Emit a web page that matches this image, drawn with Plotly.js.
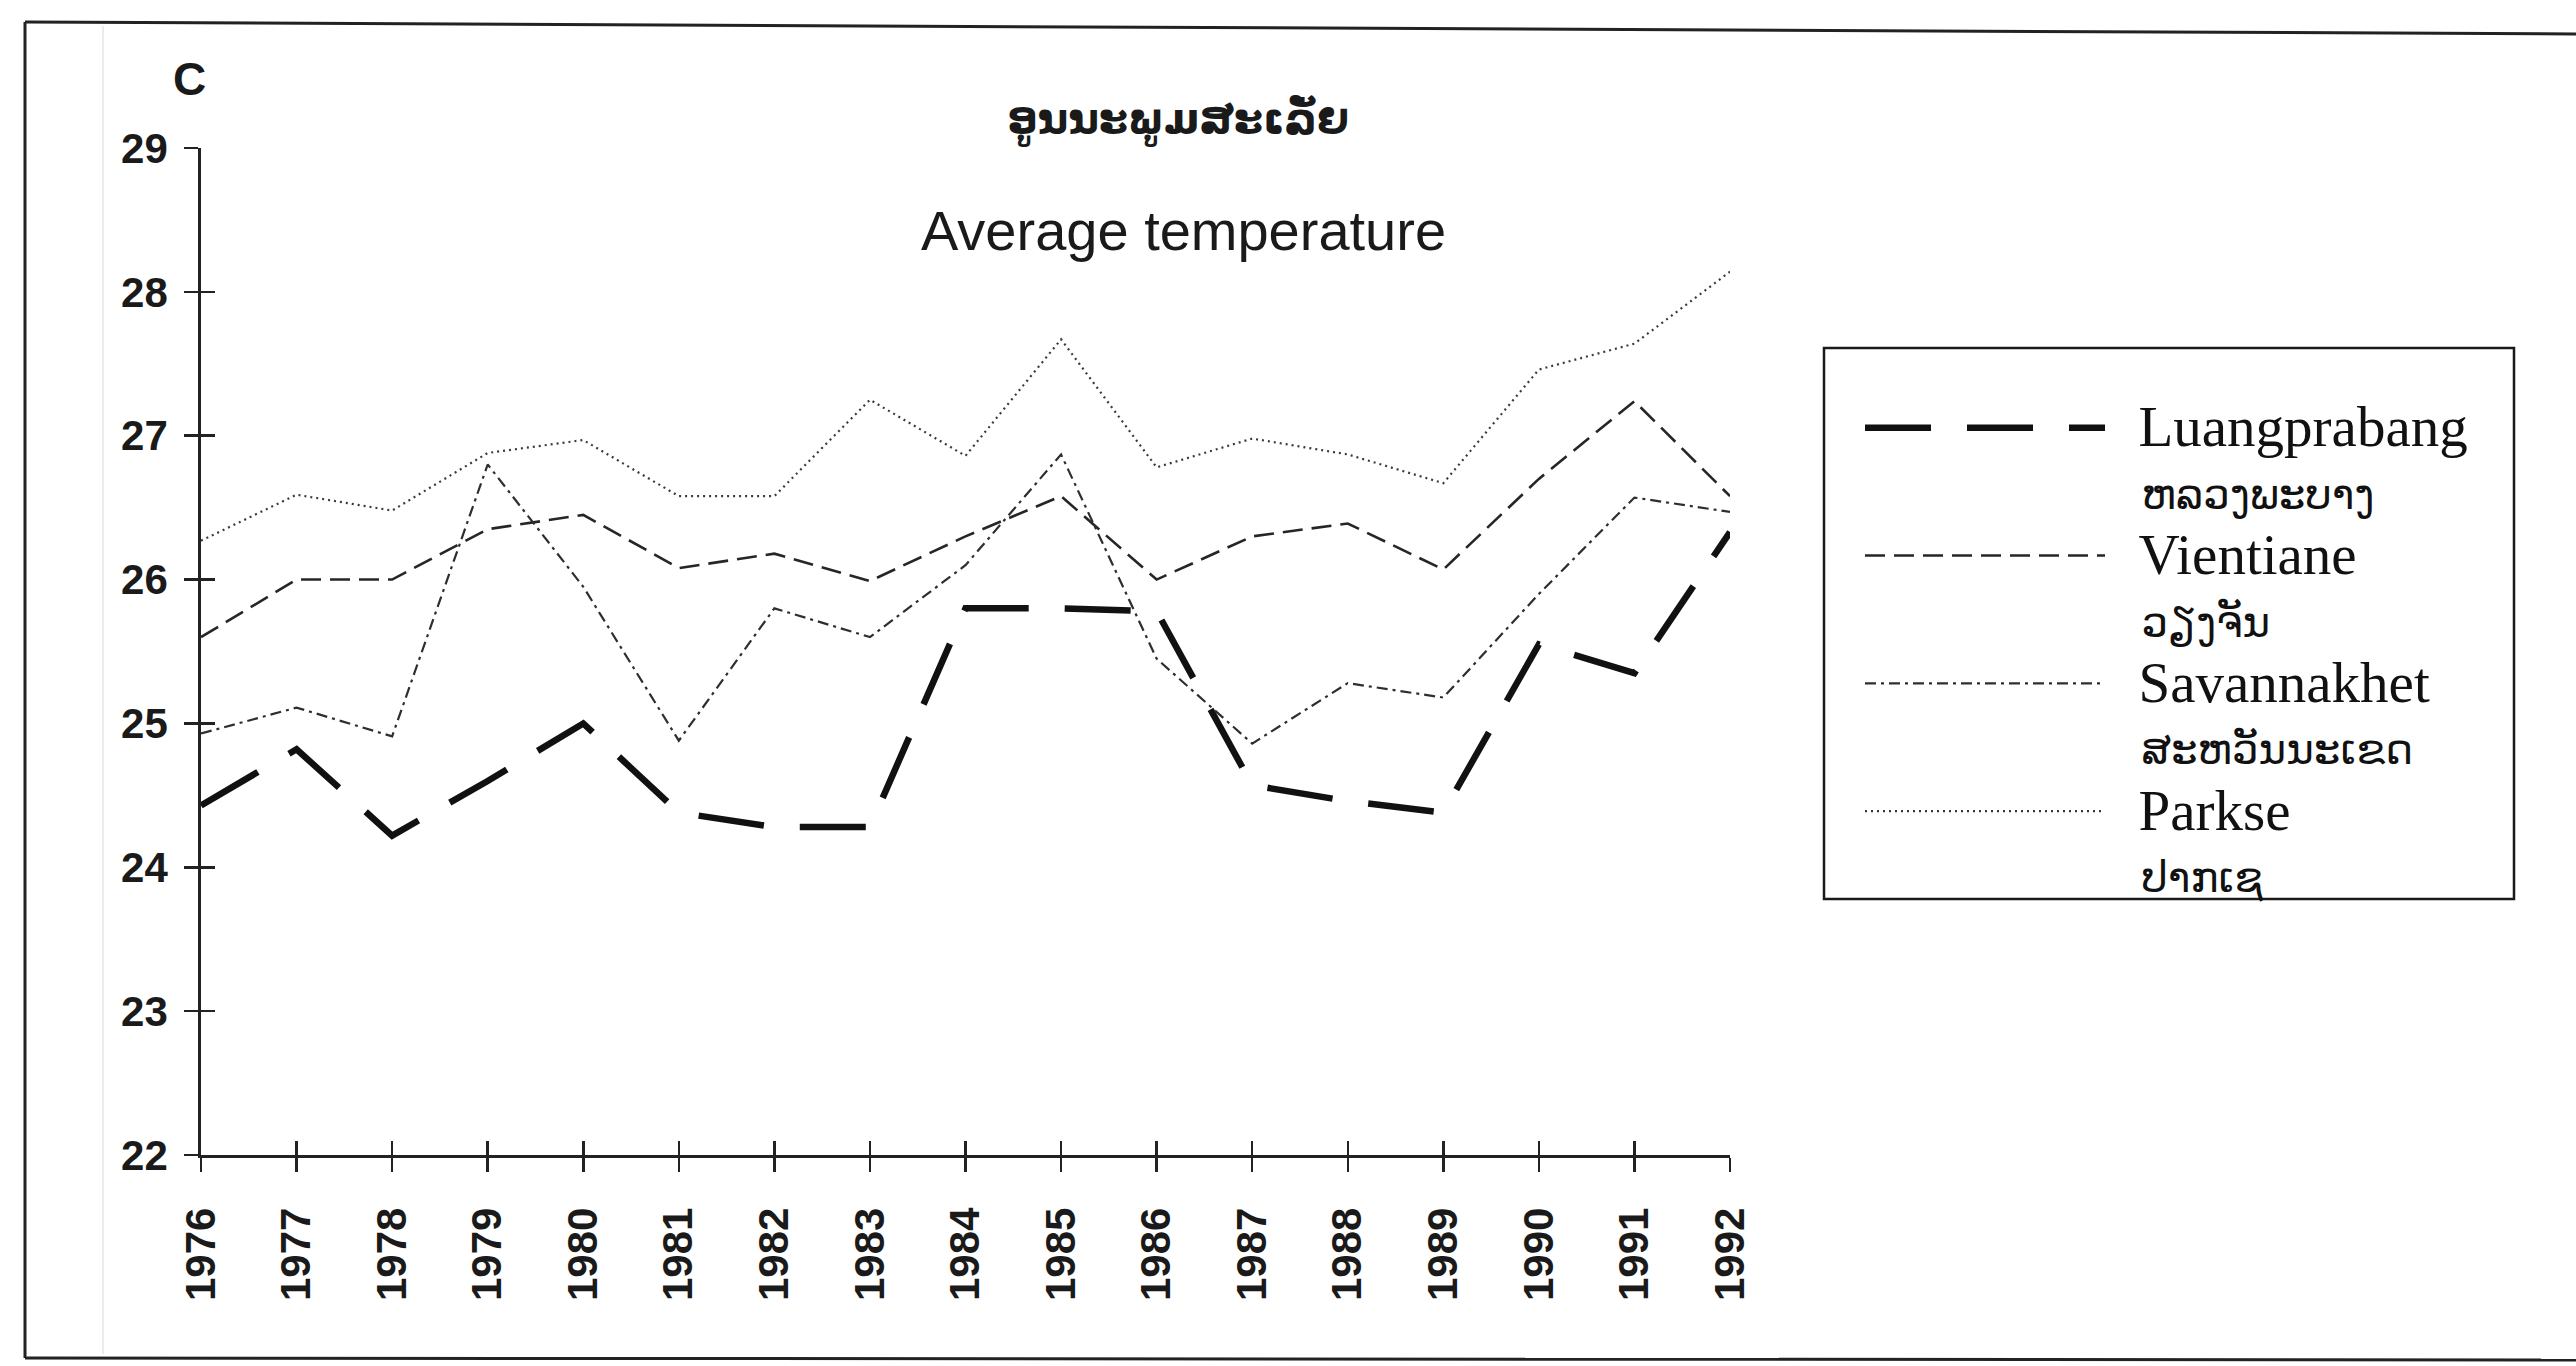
<!DOCTYPE html>
<html>
<head>
<meta charset="utf-8">
<script src="https://cdn.plot.ly/plotly-3.0.1.min.js"></script>
<style>html,body{margin:0;padding:0;background:#fff;}</style>
</head>
<body>
<div id="chart" style="width:2576px;height:1366px;"></div>
<script>
// ---- data ----
const years = [1976,1977,1978,1979,1980,1981,1982,1983,1984,1985,1986,1987,1988,1989,1990,1991,1992];
const luangprabang = [24.43,24.82,24.22,24.6,25.0,24.38,24.28,24.28,25.8,25.8,25.78,24.57,24.46,24.38,25.55,25.35,26.33];
const vientiane    = [25.6,26.0,26.0,26.35,26.45,26.08,26.18,25.99,26.3,26.58,26.0,26.3,26.39,26.07,26.7,27.24,26.58];
const savannakhet  = [24.93,25.11,24.91,26.8,25.95,24.88,25.8,25.6,26.1,26.87,25.45,24.86,25.28,25.18,25.9,26.57,26.47];
const parkse       = [26.27,26.59,26.48,26.88,26.97,26.58,26.58,27.25,26.86,27.67,26.78,26.98,26.87,26.67,27.46,27.64,28.14];
const namesEn  = ['Luangprabang','Vientiane','Savannakhet','Parkse'];
const namesLao = ['ຫລວງພະບາງ','ວຽງຈັນ','ສະຫວັນນະເຂດ','ປາກເຊ'];
const yTicks = [22,23,24,25,26,27,28,29];
const titleLao = 'ອູນນະພູມສະເລັ່ຍ';
const titleEn = 'Average temperature';
const unitLabel = 'C';

// ---- styles ----
const styles = [
  {color:'#111111', width:6.5, dash:'66px,36px'},
  {color:'#262626', width:2.6, dash:'20px,9px'},
  {color:'#2e2e2e', width:2.2, dash:'11px,5px,3px,5px'},
  {color:'#3a3a3a', width:2.2, dash:'2px,4px'}
];
const seriesData = [luangprabang, vientiane, savannakhet, parkse];
const pad = '\u00a0\u00a0';

const traces = seriesData.map((vals,i)=>({
  type:'scatter', mode:'lines', x:years, y:vals,
  name: '<span style="font-size:57px">' + pad + namesEn[i] + '</span><br>' +
        '<span style="font-size:42px">' + pad + '\u00a0' + namesLao[i] + '</span>',
  line:{color:styles[i].color, width:styles[i].width, dash:styles[i].dash},
  xaxis:'x', yaxis:'y'
}));
// helper (empty) trace for the overlay axes that give crossing tick marks
traces.push({type:'scatter', mode:'lines', x:[years[0]], y:[null], xaxis:'x2', yaxis:'y2',
  showlegend:false, hoverinfo:'skip'});

// plot area geometry (px)
const W = 2576, H = 1366;
const L = 201, R = 1730, T = 148, B = 1155;
const pw = R - L, ph = B - T;
const px = v => (v - L) / pw;     // page x -> paper
const py = v => (B - v) / ph;     // page y -> paper

const tickFont = {family:'Liberation Sans, Arial, sans-serif', size:42, color:'#1a1a1a', weight:'bold'};

const layout = {
  width:W, height:H,
  margin:{l:L, r:W-R, t:T, b:H-B, pad:0},
  paper_bgcolor:'#ffffff', plot_bgcolor:'rgba(0,0,0,0)',
  showlegend:true,
  title:{text:titleLao, x:1178/W, xanchor:'center', y:1-118/H, yanchor:'middle', yref:'container',
    font:{family:'DejaVu Sans, Noto Sans, sans-serif', size:42, color:'#1a1a1a', weight:'bold'}},
  xaxis:{range:[years[0], years[years.length-1]], tickmode:'array', tickvals:years, ticktext:years.map(String),
    tickangle:-90, ticks:'outside', ticklen:14, tickwidth:2.5, tickcolor:'#222',
    showline:true, linecolor:'#222', linewidth:2.8, showgrid:false, zeroline:false,
    tickfont:tickFont, ticklabelstandoff:19, fixedrange:true},
  yaxis:{range:[yTicks[0], yTicks[yTicks.length-1]], tickmode:'array', tickvals:yTicks, ticktext:yTicks.map(String),
    ticks:'outside', ticklen:14, tickwidth:2.5, tickcolor:'#222',
    showline:true, linecolor:'#222', linewidth:2.8, showgrid:false, zeroline:false,
    tickfont:tickFont, ticklabelstandoff:8, fixedrange:true},
  xaxis2:{overlaying:'x', anchor:'y2', range:[years[0], years[years.length-1]], tickmode:'array', tickvals:years,
    ticks:'inside', ticklen:14, tickwidth:2.5, tickcolor:'#222', showticklabels:false,
    showline:false, showgrid:false, zeroline:false, side:'bottom'},
  yaxis2:{overlaying:'y', anchor:'x2', range:[yTicks[0], yTicks[yTicks.length-1]], tickmode:'array', tickvals:yTicks,
    ticks:'inside', ticklen:14, tickwidth:2.5, tickcolor:'#222', showticklabels:false,
    showline:false, showgrid:false, zeroline:false, side:'left'},
  legend:{x:px(1860), xanchor:'left', y:py(390), yanchor:'top', valign:'top',
    bgcolor:'rgba(0,0,0,0)', borderwidth:0, itemwidth:240, tracegroupgap:0,
    font:{family:'Liberation Serif, Times New Roman, DejaVu Sans, serif', size:48, color:'#111111'}},
  annotations:[
    {text:titleEn, xref:'paper', yref:'paper', x:px(1183), y:py(230), xanchor:'center', yanchor:'middle',
     showarrow:false, font:{family:'Liberation Sans, Arial, sans-serif', size:56, color:'#1a1a1a'}},
    {text:unitLabel, xref:'paper', yref:'paper', x:px(189), y:py(79), xanchor:'center', yanchor:'middle',
     showarrow:false, font:{family:'Liberation Sans, Arial, sans-serif', size:46, color:'#1a1a1a', weight:'bold'}}
  ],
  shapes:[
    // page frame (the scan is slightly tilted)
    {type:'line', xref:'paper', yref:'paper', x0:px(25), x1:px(2590), y0:py(22), y1:py(34), line:{color:'#222', width:3}},
    {type:'line', xref:'paper', yref:'paper', x0:px(25), x1:px(25), y0:py(22), y1:py(1358), line:{color:'#222', width:3}},
    {type:'line', xref:'paper', yref:'paper', x0:px(25), x1:px(2590), y0:py(1358), y1:py(1360), line:{color:'#222', width:3}},
    {type:'line', xref:'paper', yref:'paper', x0:px(103), x1:px(103), y0:py(26), y1:py(1354), line:{color:'#e6e6e6', width:1.5}},
    // legend box
    {type:'rect', xref:'paper', yref:'paper', x0:px(1824), x1:px(2514), y0:py(899), y1:py(348),
     line:{color:'#1a1a1a', width:2.5}, fillcolor:'rgba(0,0,0,0)'}
  ]
};

Plotly.newPlot('chart', traces, layout, {staticPlot:true, displayModeBar:false});
</script>
</body>
</html>
